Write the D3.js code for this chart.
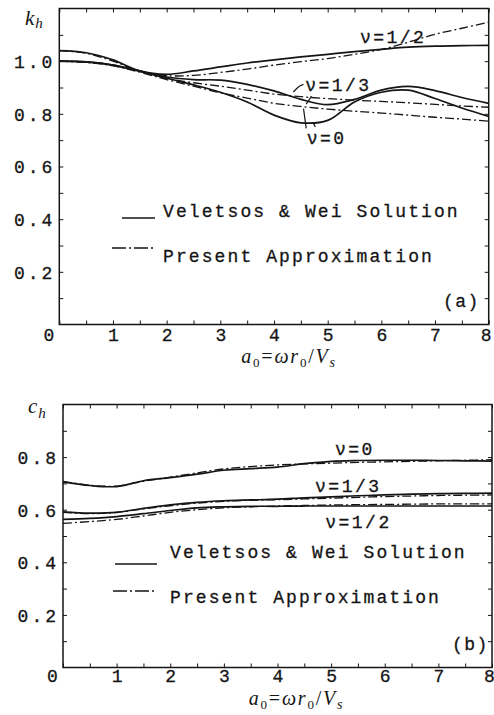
<!DOCTYPE html>
<html>
<head>
<meta charset="utf-8">
<script src="https://cdn.jsdelivr.net/npm/d3@7/dist/d3.min.js"></script>
<style>
body { margin: 0; background: #fff; }
svg { display: block; background: #fff; }
</style>
</head>
<body>
<svg id="chart" width="494" height="715"></svg>
<script>
// Dimensionless frequency a0 = w r0 / Vs (shared by every curve)
var a0 = [0, 0.5, 1, 1.5, 2, 2.5, 3, 3.5, 4, 4.5, 5, 5.5, 6, 6.5, 7, 7.5, 8];
var xTicks = [0, 1, 2, 3, 4, 5, 6, 7, 8];

// (a) stiffness coefficient k_h
var kTicks = [0.2, 0.4, 0.6, 0.8, 1.0];
var kExactHalf  = [1.040, 1.032, 1.005, 0.963, 0.950, 0.963, 0.978, 0.993, 1.005, 1.016, 1.026, 1.036, 1.045, 1.053, 1.057, 1.059, 1.060];
var kApproxHalf = [1.040, 1.030, 1.000, 0.962, 0.945, 0.946, 0.957, 0.970, 0.985, 0.998, 1.010, 1.026, 1.045, 1.072, 1.102, 1.125, 1.148];
var kExactThird  = [1.000, 0.997, 0.985, 0.962, 0.940, 0.930, 0.928, 0.912, 0.887, 0.855, 0.835, 0.855, 0.890, 0.904, 0.888, 0.862, 0.840];
var kApproxThird = [1.000, 0.996, 0.985, 0.962, 0.935, 0.918, 0.905, 0.890, 0.875, 0.865, 0.858, 0.852, 0.847, 0.842, 0.836, 0.830, 0.825];
var kExactZero  = [1.000, 0.997, 0.985, 0.962, 0.935, 0.910, 0.882, 0.845, 0.795, 0.766, 0.775, 0.845, 0.882, 0.890, 0.858, 0.822, 0.790];
var kApproxZero = [1.000, 0.995, 0.982, 0.958, 0.930, 0.905, 0.880, 0.860, 0.840, 0.828, 0.818, 0.810, 0.803, 0.795, 0.787, 0.780, 0.772];

// (b) damping coefficient c_h
var cTicks = [0.2, 0.4, 0.6, 0.8];
var cExactZero  = [0.706, 0.692, 0.688, 0.710, 0.722, 0.735, 0.750, 0.756, 0.762, 0.775, 0.784, 0.787, 0.788, 0.788, 0.787, 0.786, 0.785];
var cApproxZero = [0.708, 0.693, 0.690, 0.708, 0.724, 0.740, 0.755, 0.764, 0.770, 0.774, 0.777, 0.780, 0.782, 0.784, 0.786, 0.788, 0.790];
var cExactThird  = [0.592, 0.587, 0.590, 0.605, 0.618, 0.628, 0.634, 0.637, 0.640, 0.645, 0.649, 0.653, 0.656, 0.659, 0.661, 0.662, 0.663];
var cApproxThird = [0.590, 0.585, 0.590, 0.603, 0.615, 0.625, 0.632, 0.636, 0.638, 0.641, 0.644, 0.647, 0.650, 0.652, 0.654, 0.655, 0.656];
var cExactHalf  = [0.563, 0.567, 0.574, 0.585, 0.597, 0.607, 0.611, 0.613, 0.613, 0.614, 0.614, 0.614, 0.614, 0.614, 0.614, 0.614, 0.614];
var cApproxHalf = [0.548, 0.555, 0.563, 0.576, 0.590, 0.600, 0.607, 0.611, 0.614, 0.616, 0.618, 0.619, 0.620, 0.621, 0.622, 0.622, 0.622];

var legendNames = ["Veletsos & Wei Solution", "Present Approximation"];

var MONO = "'Liberation Mono', 'DejaVu Sans Mono', monospace";
var SERIF = "'Liberation Serif', 'DejaVu Serif', serif";
var INK = "#151515";
var DASHDOT = "9,3,2,3";

var svg = d3.select("#chart");

var panels = [
	{
		x0: 59.3, x1: 488.7, yTop: 8.5, yBottom: 324.5, yMax: 1.2,
		ticks: kTicks, sym: "k", symX: 25, symY: 25, subDy: 3,
		exact: [kExactHalf, kExactThird, kExactZero],
		approx: [kApproxHalf, kApproxThird, kApproxZero],
		notes: [
			{text: "\u03bd=1/2", a: 5.60, v: 1.070},
			{text: "\u03bd=1/3", a: 4.58, v: 0.886},
			{text: "\u03bd=0", a: 4.61, v: 0.686}
		],
		leaders: [
			[[4.36, 0.883], [4.46, 0.903], [4.55, 0.912]],
			[[4.70, 0.867], [4.60, 0.837]],
			[[4.55, 0.820], [4.60, 0.745]],
			[[4.73, 0.766], [4.77, 0.750]]
		],
		legend: {solid: [122, 155, 218], dash: [112, 155, 248], textX: 163, base: [217, 262]},
		tag: "(a)", tagX: 443, tagY: 307, tickY: 16.5, titleY: 363, titleDx: 15
	},
	{
		x0: 63, x1: 492, yTop: 404.5, yBottom: 667.5, yMax: 1.0,
		ticks: cTicks, sym: "c", symX: 28, symY: 413, subDy: 5,
		exact: [cExactZero, cExactThird, cExactHalf],
		approx: [cApproxZero, cApproxThird, cApproxHalf],
		notes: [
			{text: "\u03bd=0", a: 5.07, v: 0.808},
			{text: "\u03bd=1/3", a: 4.70, v: 0.669},
			{text: "\u03bd=1/2", a: 4.89, v: 0.532}
		],
		leaders: [],
		legend: {solid: [115, 157, 564], dash: [113, 157, 591], textX: 170, base: [558, 603]},
		tag: "(b)", tagX: 452, tagY: 650, tickY: 14.5, titleY: 705, titleDx: 19
	}
];

panels.forEach(function(p) { drawPanel(p); });

function drawPanel(p) {
	var x = d3.scaleLinear().domain([0, 8]).range([p.x0, p.x1]);
	var y = d3.scaleLinear().domain([0, p.yMax]).range([p.yBottom, p.yTop]);

	var g = svg.append("g");

	// frame
	g.append("rect")
		.attr("x", p.x0).attr("y", p.yTop)
		.attr("width", p.x1 - p.x0).attr("height", p.yBottom - p.yTop)
		.attr("fill", "none").attr("stroke", INK).attr("stroke-width", 1.5);

	var xMinor = d3.range(0, 16.5).map(function(d) { return d / 2; });
	var yMinor = d3.range(1, Math.round(p.yMax * 10)).map(function(d) { return d / 10; });

	// bottom axis, ticks point inward
	var bottom = g.append("g")
		.attr("transform", "translate(0," + p.yBottom + ")")
		.call(d3.axisBottom(x).tickValues(xMinor).tickSize(-4).tickSizeOuter(0)
			.tickFormat(function(d) { return xTicks.indexOf(d) >= 0 ? String(d) : ""; }));

	g.append("g")
		.attr("transform", "translate(0," + p.yTop + ")")
		.call(d3.axisTop(x).tickValues(xMinor).tickSize(-4).tickSizeOuter(0).tickFormat(""));

	var left = g.append("g")
		.attr("transform", "translate(" + p.x0 + ",0)")
		.call(d3.axisLeft(y).tickValues(yMinor).tickSize(-4).tickSizeOuter(0)
			.tickFormat(function(d) {
				var hit = p.ticks.some(function(t) { return Math.abs(t - d) < 1e-6; });
				return hit ? d3.format(".1f")(d) : "";
			}));

	g.append("g")
		.attr("transform", "translate(" + p.x1 + ",0)")
		.call(d3.axisRight(y).tickValues(yMinor).tickSize(-4).tickSizeOuter(0).tickFormat(""));

	g.selectAll(".domain").remove();
	g.selectAll(".tick line").attr("stroke", INK).attr("stroke-width", 1);
	g.selectAll(".tick text")
		.attr("font-family", MONO).attr("font-size", 18)
		.attr("fill", INK).attr("stroke", INK).attr("stroke-width", 0.3);

	left.selectAll("text").attr("x", -4).attr("dy", "0.36em").attr("letter-spacing", 3);
	// the 0 sits under the corner, the 8 is pulled in from the edge
	bottom.selectAll("text")
		.attr("y", p.tickY).attr("dy", null)
		.attr("dx", function(d) { return d === 0 ? -11 : (d === 8 ? -3 : 0); });

	// curves
	var line = d3.line()
		.x(function(d, i) { return x(a0[i]); })
		.y(function(d) { return y(d); })
		.curve(d3.curveCatmullRom);

	p.approx.forEach(function(s) {
		g.append("path").attr("d", line(s))
			.attr("fill", "none").attr("stroke", INK)
			.attr("stroke-width", 1.3).attr("stroke-dasharray", DASHDOT);
	});
	p.exact.forEach(function(s) {
		g.append("path").attr("d", line(s))
			.attr("fill", "none").attr("stroke", INK).attr("stroke-width", 1.7);
	});

	// curve labels and their leader lines
	var lead = d3.line()
		.x(function(d) { return x(d[0]); })
		.y(function(d) { return y(d[1]); })
		.curve(d3.curveNatural);
	p.leaders.forEach(function(l) {
		g.append("path").attr("d", lead(l))
			.attr("fill", "none").attr("stroke", INK).attr("stroke-width", 1.2);
	});
	p.notes.forEach(function(n) {
		g.append("text")
			.attr("x", x(n.a)).attr("y", y(n.v))
			.attr("font-family", MONO).attr("font-size", 18)
			.attr("letter-spacing", 2.5).attr("fill", INK)
			.attr("stroke", INK).attr("stroke-width", 0.3)
			.text(n.text);
	});

	// legend
	var L = p.legend;
	g.append("line")
		.attr("x1", L.solid[0]).attr("x2", L.solid[1])
		.attr("y1", L.solid[2]).attr("y2", L.solid[2])
		.attr("stroke", INK).attr("stroke-width", 1.4);
	g.append("line")
		.attr("x1", L.dash[0]).attr("x2", L.dash[1])
		.attr("y1", L.dash[2]).attr("y2", L.dash[2])
		.attr("stroke", INK).attr("stroke-width", 1.3).attr("stroke-dasharray", "14,3,2,3");
	legendNames.forEach(function(name, i) {
		g.append("text")
			.attr("x", L.textX).attr("y", L.base[i])
			.attr("font-family", MONO).attr("font-size", 18)
			.attr("letter-spacing", 2.1).attr("fill", INK)
			.attr("stroke", INK).attr("stroke-width", 0.3)
			.text(name);
	});

	g.append("text")
		.attr("x", p.tagX).attr("y", p.tagY)
		.attr("font-family", MONO).attr("font-size", 18)
		.attr("letter-spacing", 1.5).attr("fill", INK)
		.attr("stroke", INK).attr("stroke-width", 0.3)
		.text(p.tag);

	// y symbol: k_h or c_h
	var sym = g.append("text")
		.attr("x", p.symX).attr("y", p.symY)
		.attr("font-family", SERIF).attr("font-style", "italic")
		.attr("font-size", 21).attr("fill", INK);
	sym.append("tspan").text(p.sym);
	sym.append("tspan").attr("font-size", 15).attr("dy", p.subDy).attr("dx", 1).text("h");

	// x title: a0 = w r0 / Vs
	var title = g.append("text")
		.attr("x", (p.x0 + p.x1) / 2 + p.titleDx).attr("y", p.titleY)
		.attr("text-anchor", "middle")
		.attr("font-family", SERIF).attr("font-size", 20)
		.attr("letter-spacing", 1.8).attr("fill", INK);
	title.append("tspan").attr("font-style", "italic").text("a");
	title.append("tspan").attr("font-size", 13).attr("dy", 4).text("0");
	title.append("tspan").attr("dy", -4).text("=");
	title.append("tspan").attr("font-style", "italic").text("\u03c9r");
	title.append("tspan").attr("font-size", 13).attr("dy", 4).text("0");
	title.append("tspan").attr("dy", -4).text("/");
	title.append("tspan").attr("font-style", "italic").text("V");
	title.append("tspan").attr("font-size", 14).attr("font-style", "italic").attr("dy", 4).text("s");
}
</script>
</body>
</html>
